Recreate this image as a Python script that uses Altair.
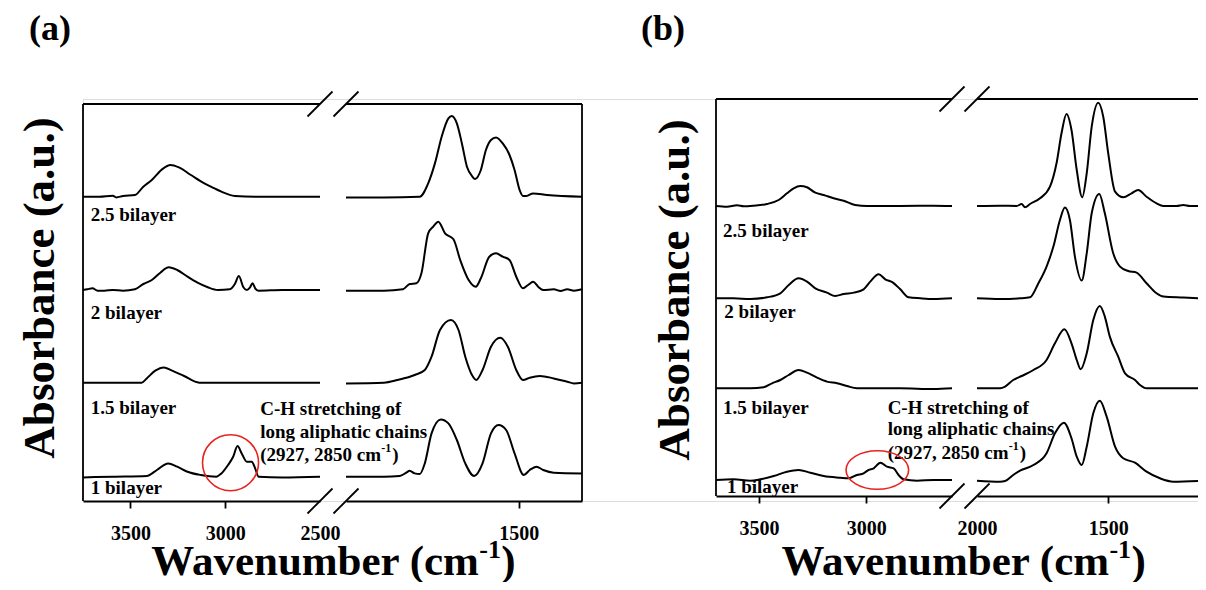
import altair as alt
import pandas as pd

FONT = "Liberation Serif"
INK = "#000000"
RED = "#e8231e"

SERIES = ["2.5 bilayer", "2 bilayer", "1.5 bilayer", "1 bilayer"]

# stacked baselines (a.u.)
A_OFFSET = [3.043, 2.11, 1.183, 0.243]
B_OFFSET = [2.95, 2.027, 1.127, 0.21]

# ---------- panel (a): (wavenumber, absorbance above baseline) ----------
A25_L = [(3750, 0), (3664, 0), (3593, 0.01), (3575, -0.007), (3539, 0.007), (3476, 0.017), (3432, 0.1),
         (3387, 0.167), (3333, 0.273), (3289, 0.317), (3244, 0.293), (3181, 0.217), (3110, 0.133),
         (3056, 0.083), (3020, 0.05), (2949, 0.007), (2842, 0), (2500, 0)]
A25_R = [(1910, -0.007), (1820, -0.007), (1735, 0), (1715, 0.133), (1699, 0.333), (1683, 0.6), (1667, 0.783),
         (1659, 0.807), (1647, 0.733), (1635, 0.533), (1623, 0.3), (1610, 0.2), (1604, 0.177), (1590, 0.267),
         (1578, 0.467), (1566, 0.567), (1554, 0.593), (1538, 0.533), (1522, 0.417), (1510, 0.267),
         (1498, 0.067), (1490, 0.007), (1482, 0.007), (1466, 0.033), (1433, 0.017), (1350, 0)]
A2_L = [(3750, 0), (3727, 0.007), (3700, 0.017), (3673, -0.007), (3637, -0.007), (3593, 0), (3539, -0.007),
        (3476, 0.007), (3432, 0.06), (3387, 0.1), (3342, 0.173), (3298, 0.227), (3253, 0.2), (3199, 0.133),
        (3146, 0.073), (3092, 0.027), (3038, 0), (2976, 0.007), (2949, 0.06), (2928, 0.14), (2904, 0.027),
        (2886, 0), (2869, 0.027), (2856, 0.067), (2842, 0.017), (2824, -0.007), (2699, 0), (2500, 0)]
A2_R = [(1910, -0.007), (1820, -0.007), (1775, 0.007), (1759, 0.06), (1743, 0.067), (1731, 0.167),
        (1715, 0.567), (1703, 0.633), (1691, 0.683), (1675, 0.567), (1655, 0.507), (1639, 0.3), (1619, 0.1),
        (1602, 0.033), (1590, 0.117), (1570, 0.333), (1554, 0.367), (1538, 0.333), (1522, 0.3), (1506, 0.133),
        (1490, 0.017), (1478, 0.05), (1466, 0.083), (1454, 0.033), (1442, 0), (1417, 0.007), (1401, -0.01),
        (1385, 0.007), (1369, -0.007), (1350, 0.007)]
A15_L = [(3750, 0), (3441, 0), (3414, 0.043), (3369, 0.12), (3324, 0.153), (3280, 0.12), (3217, 0.067),
         (3137, 0), (2500, 0)]
A15_R = [(1910, -0.007), (1820, 0), (1788, 0.027), (1747, 0.077), (1723, 0.127), (1707, 0.26), (1687, 0.527),
         (1661, 0.627), (1643, 0.527), (1627, 0.26), (1611, 0.077), (1601, 0.027), (1586, 0.127), (1566, 0.36),
         (1544, 0.45), (1526, 0.36), (1506, 0.127), (1490, 0.027), (1474, 0.05), (1450, 0.067), (1417, 0.043),
         (1385, 0.01), (1369, -0.007), (1350, 0)]
A1_L = [(3750, -0.007), (3593, 0), (3414, 0.007), (3360, 0.067), (3301, 0.133), (3253, 0.1), (3199, 0.05),
        (3128, 0.017), (3047, 0), (3020, 0.033), (2985, 0.117), (2958, 0.2), (2935, 0.307), (2913, 0.233),
        (2886, 0.15), (2860, 0.15), (2842, 0.083), (2824, 0), (2699, -0.007), (2500, 0)]
A1_R = [(1910, 0), (1820, 0), (1783, 0.007), (1767, 0.04), (1759, 0.06), (1747, 0.033), (1735, 0.027),
        (1723, 0.133), (1707, 0.433), (1685, 0.573), (1667, 0.533), (1647, 0.367), (1627, 0.133), (1606, 0.007),
        (1586, 0.133), (1566, 0.433), (1548, 0.517), (1530, 0.467), (1510, 0.233), (1488, 0.017), (1474, 0.067),
        (1458, 0.1), (1442, 0.067), (1417, 0.04), (1350, 0.033)]

# ---------- panel (b) ----------
B25_L = [(3700, 0), (3649, -0.007), (3602, 0.007), (3571, -0.003), (3525, 0.003), (3462, 0.02), (3408, 0.06),
         (3369, 0.127), (3338, 0.177), (3307, 0.2), (3276, 0.187), (3237, 0.133), (3198, 0.11), (3152, 0.077),
         (3105, 0.053), (3051, 0.01), (2996, 0), (2841, 0), (2686, 0.003), (2600, 0)]
B25_R = [(2000, 0), (1912, 0.003), (1849, 0), (1830, 0.02), (1817, -0.013), (1798, 0.02), (1760, 0.077),
         (1722, 0.193), (1697, 0.427), (1678, 0.727), (1659, 0.92), (1640, 0.76), (1620, 0.36), (1599, 0.087),
         (1582, 0.327), (1563, 0.793), (1538, 1.033), (1519, 0.893), (1500, 0.527), (1474, 0.143), (1443, 0.087),
         (1411, 0.127), (1386, 0.16), (1354, 0.093), (1316, 0.027), (1290, 0), (1240, 0), (1214, 0.01),
         (1189, 0), (1158, 0)]
B2_L = [(3700, 0), (3618, 0), (3540, -0.007), (3462, 0.01), (3400, 0.05), (3361, 0.133), (3315, 0.2),
        (3276, 0.167), (3237, 0.1), (3183, 0.057), (3144, 0.023), (3105, 0.043), (3058, 0.057), (3012, 0.09),
        (2981, 0.167), (2942, 0.24), (2911, 0.19), (2875, 0.157), (2841, 0.09), (2802, 0.01), (2748, 0),
        (2686, -0.007), (2600, 0)]
B2_R = [(2000, 0), (1912, -0.007), (1836, 0), (1798, 0.01), (1766, 0.15), (1735, 0.317), (1709, 0.517),
        (1684, 0.783), (1665, 0.907), (1646, 0.783), (1627, 0.417), (1601, 0.177), (1582, 0.45), (1563, 0.85),
        (1534, 1.043), (1513, 0.85), (1481, 0.45), (1455, 0.317), (1424, 0.273), (1392, 0.257), (1354, 0.15),
        (1316, 0.05), (1290, 0.017), (1214, 0.007), (1158, 0)]
B15_L = [(3700, 0), (3540, 0), (3478, 0.01), (3439, 0.05), (3400, 0.083), (3361, 0.133), (3315, 0.183),
         (3276, 0.157), (3229, 0.107), (3183, 0.067), (3136, 0.05), (3090, 0.023), (3043, 0), (2841, 0),
         (2686, -0.007), (2600, 0)]
B15_R = [(2000, 0), (1912, 0), (1893, 0.017), (1862, 0.083), (1830, 0.123), (1785, 0.183), (1735, 0.283),
         (1703, 0.45), (1667, 0.59), (1640, 0.45), (1620, 0.283), (1605, 0.19), (1582, 0.35), (1557, 0.683),
         (1532, 0.823), (1513, 0.717), (1494, 0.517), (1462, 0.317), (1436, 0.15), (1398, 0.083), (1379, 0.033),
         (1354, 0), (1278, 0), (1158, 0)]
B1_L = [(3700, 0), (3618, 0.007), (3540, -0.007), (3494, 0.007), (3431, 0.04), (3369, 0.083), (3315, 0.1),
        (3260, 0.073), (3198, 0.04), (3121, 0.023), (3082, 0.017), (3043, 0.05), (3012, 0.067), (2989, 0.1),
        (2965, 0.117), (2934, 0.173), (2903, 0.133), (2872, 0.117), (2849, 0.05), (2825, 0.007), (2763, -0.007),
        (2686, 0), (2600, 0)]
B1_R = [(2000, -0.007), (1912, -0.017), (1893, -0.01), (1862, 0.05), (1836, 0.093), (1785, 0.15), (1735, 0.267),
        (1703, 0.467), (1669, 0.573), (1640, 0.417), (1620, 0.233), (1601, 0.15), (1582, 0.333), (1557, 0.667),
        (1532, 0.793), (1506, 0.633), (1474, 0.333), (1443, 0.217), (1398, 0.173), (1354, 0.083), (1303, 0.017),
        (1252, -0.017), (1158, -0.01)]

# ---------- axes / text ----------
A_L_DOMAIN, A_R_DOMAIN = [3750, 2500], [1910, 1350]
B_L_DOMAIN, B_R_DOMAIN = [3700, 2600], [2000, 1158]
A_L_TICKS, A_R_TICKS = [3500, 3000, 2500], [1500]
B_L_TICKS, B_R_TICKS = [3500, 3000], [2000, 1500]

A_LABEL_X = [3709, 3709, 3709, 3709]
A_LABEL_Y = [2.86, 1.883, 0.927, 0.127]
B_LABEL_X = [3667, 3661, 3667, 3649]
B_LABEL_Y = [2.703, 1.893, 0.927, 0.143]

ANNOT = ["C-H stretching of", "long aliphatic chains", "(2927, 2850 cm"]
A_ANNOT_X, A_ANNOT_Y = 2815, [0.92, 0.693, 0.46]
B_ANNOT_X, B_ANNOT_Y = 2900, [0.933, 0.717, 0.483]
A_MARK = (2972, 0.383)   # red circle centre (cm-1, a.u.)
B_MARK = (2948, 0.31)    # red ellipse centre

# ---------- layout ----------
W, H = 1115, 402
Y_DOMAIN = [0, 4.02]
A_TOP, B_TOP, B_BOTTOM = 3.97, 4.02, 0.05
XTITLE_Y = -0.735
PANEL_Y = 4.615
RNG = {"aL": [0, 237], "aR": [263, 499], "bL": [633, 869], "bR": [894, 1115]}

yscale = alt.Scale(domain=Y_DOMAIN, nice=False, zero=False)


def Y(f):
    return alt.Y(f, type="quantitative", scale=yscale, axis=None)


def make_axis(ticks, hidden=None, offset=0):
    kw = dict(values=ticks, format="d", title=None, grid=False, domain=True, domainColor=INK,
              domainWidth=1.8, ticks=True, tickColor=INK, tickWidth=1.8, tickSize=7, labelFont=FONT,
              labelFontSize=20, labelFontWeight="bold", labelColor=INK, labelPadding=15, labelFlush=False,
              labelOverlap=False, orient="bottom", offset=offset)
    if hidden is not None:
        kw["tickOpacity"] = {"condition": {"test": f"datum.value == {hidden}", "value": 0}, "value": 1}
    return alt.Axis(**kw)


def spectra_df(segs, offsets):
    rows = []
    for name, pts, off in zip(SERIES, segs, offsets):
        for i, (w, a) in enumerate(pts):
            rows.append({"series": name, "wn": w, "y": off + a, "order": i})
    return pd.DataFrame(rows)


def segment(key, domain, ticks, hidden, offset, segs, offsets, frames, slash_edge, slash_ys,
            texts=None, extra=None):
    sc = alt.Scale(domain=domain, range=RNG[key], nice=False, zero=False)
    ax = make_axis(ticks, hidden, offset)

    def X(f):
        return alt.X(f, type="quantitative", scale=sc, axis=ax)

    layers = []
    layers.append(
        alt.Chart(spectra_df(segs, offsets)).mark_line(interpolate="monotone", color=INK, strokeWidth=2)
        .encode(x=X("wn"), y=Y("y"), detail="series:N", order="order:Q")
    )
    ppu = (RNG[key][1] - RNG[key][0]) / abs(domain[0] - domain[1])
    hx = 12.5 / ppu
    rules = list(frames)
    for yc in slash_ys:
        rules.append((slash_edge + hx, yc - 0.125, slash_edge - hx, yc + 0.125))
    rdf = pd.DataFrame(rules, columns=["x", "y", "x2", "y2"])
    layers.append(
        alt.Chart(rdf).mark_rule(color=INK, strokeWidth=1.8)
        .encode(x=X("x"), y=Y("y"), x2="x2", y2="y2")
    )
    if texts:
        for df, props in texts:
            layers.append(alt.Chart(df).mark_text(font=FONT, fontWeight="bold", color=INK, **props)
                          .encode(x=X("x"), y=Y("y"), text="text:N"))
    if extra:
        for df, mk in extra:
            layers.append(alt.Chart(df).mark_point(**mk).encode(x=X("x"), y=Y("y")))
    return alt.layer(*layers)


def tdf(xs, ys, texts):
    return pd.DataFrame({"x": xs, "y": ys, "text": texts})


label_props = dict(align="left", baseline="middle", fontSize=19)
sup_props = dict(align="left", baseline="middle", fontSize=12, dx=121, dy=-7)
close_props = dict(align="left", baseline="middle", fontSize=19, dx=132)
ytitle_props = dict(align="center", baseline="middle", fontSize=45, angle=270)
xtitle_props = dict(align="left", baseline="alphabetic", fontSize=43)
xsup_props = dict(align="left", baseline="alphabetic", fontSize=26, dx=328, dy=-17)
xclose_props = dict(align="left", baseline="alphabetic", fontSize=43, dx=350)
panel_props = dict(align="left", baseline="alphabetic", fontSize=36)


def panel_texts(label_x, label_y, ax_x, ax_y, ytx, yty, xtx, panel_x, panel_name):
    return [
        (tdf(label_x, label_y, SERIES), label_props),
        (tdf([ax_x] * 3, ax_y, ANNOT), label_props),
        (tdf([ax_x], [ax_y[2]], ["-1"]), sup_props),
        (tdf([ax_x], [ax_y[2]], [")"]), close_props),
        (tdf([ytx], [yty], ["Absorbance (a.u.)"]), ytitle_props),
        (tdf([xtx], [XTITLE_Y], ["Wavenumber (cm"]), xtitle_props),
        (tdf([xtx], [XTITLE_Y], ["-1"]), xsup_props),
        (tdf([xtx], [XTITLE_Y], [")"]), xclose_props),
        (tdf([panel_x], [PANEL_Y], [panel_name]), panel_props),
    ]


circle_mk = dict(shape="circle", size=3136, filled=False, stroke=RED, strokeWidth=1.6, opacity=1)
ellipse_mk = dict(shape="M-1,0A1,0.617,0,1,1,1,0A1,0.617,0,1,1,-1,0Z", size=3919, filled=False,
                  stroke=RED, strokeWidth=1.6, opacity=1)

aL = segment("aL", A_L_DOMAIN, A_L_TICKS, 2500, 0, [A25_L, A2_L, A15_L, A1_L], A_OFFSET,
             [(3750, A_TOP, 2500, A_TOP), (3750, 0, 3750, A_TOP)], 2500, [A_TOP, 0],
             texts=panel_texts(A_LABEL_X, A_LABEL_Y, A_ANNOT_X, A_ANNOT_Y, 3979, 2.13, 3390, 4035, "(a)"),
             extra=[(pd.DataFrame({"x": [A_MARK[0]], "y": [A_MARK[1]]}), circle_mk)])
aR = segment("aR", A_R_DOMAIN, A_R_TICKS, None, 0, [A25_R, A2_R, A15_R, A1_R], A_OFFSET,
             [(1910, A_TOP, 1350, A_TOP), (1350, 0, 1350, A_TOP)], 1910, [A_TOP, 0])
bL = segment("bL", B_L_DOMAIN, B_L_TICKS, None, -5, [B25_L, B2_L, B15_L, B1_L], B_OFFSET,
             [(3700, B_TOP, 2600, B_TOP), (3700, B_BOTTOM, 3700, B_TOP)], 2600, [B_TOP, B_BOTTOM],
             texts=panel_texts(B_LABEL_X, B_LABEL_Y, B_ANNOT_X, B_ANNOT_Y, 3890, 2.11, 3395, 4050, "(b)"),
             extra=[(pd.DataFrame({"x": [B_MARK[0]], "y": [B_MARK[1]]}), ellipse_mk)])
bR = segment("bR", B_R_DOMAIN, B_R_TICKS, 2000, -5, [B25_R, B2_R, B15_R, B1_R], B_OFFSET,
             [(2000, B_TOP, 1158, B_TOP)], 2000, [B_TOP, B_BOTTOM])

chart = (
    alt.layer(aL, aR, bL, bR)
    .resolve_scale(x="independent", y="shared")
    .resolve_axis(x="independent")
    .properties(width=W, height=H, autosize=alt.AutoSizeParams(type="none"),
                padding={"left": 75, "top": 91, "right": 0, "bottom": 81})
    .configure_view(stroke="transparent", strokeWidth=0)
    .configure(background="white")
)

chart.save("out.html", embed_options={"renderer": "svg", "actions": False})
